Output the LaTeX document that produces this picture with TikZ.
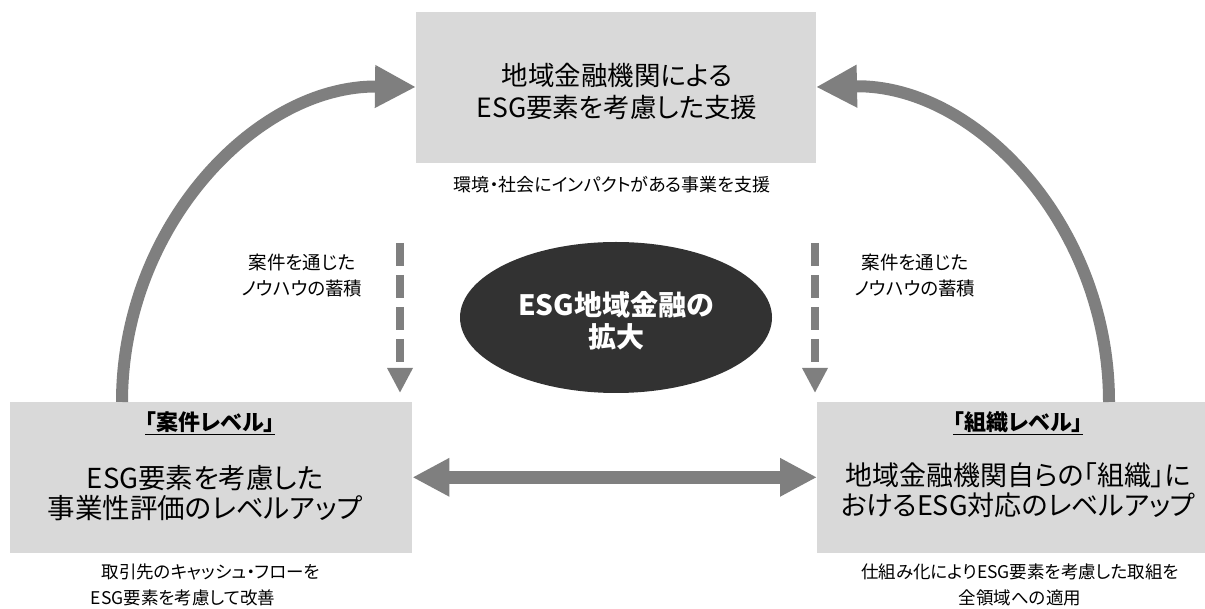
\documentclass[tikz,border=0pt]{standalone}
\usepackage{fontspec}
\setmainfont{Noto Sans CJK JP}[RawFeature=+palt]
\usetikzlibrary{arrows.meta,shapes.geometric}
\definecolor{boxgray}{HTML}{D9D9D9}
\definecolor{arrgray}{HTML}{7F7F7F}
\definecolor{darkfill}{HTML}{323232}
\tikzset{
  box/.style={fill=boxgray, draw=none, inner sep=0pt, anchor=south west},
  txt/.style={inner sep=0pt, align=center, text=black},
  bigtxt/.style={txt, font=\fontsize{26.5}{32}\selectfont},
  smalltxt/.style={txt, font=\fontsize{17.5}{26}\selectfont},
  titletxt/.style={txt, font=\fontsize{22}{26}\selectfont\bfseries},
  curvearrow/.style={draw=arrgray, line width=12pt, -{Triangle[length=41pt,width=40pt]}},
  dasharrow/.style={draw=arrgray, line width=8pt, dash pattern=on 23pt off 9pt, -{Triangle[length=25pt,width=24pt]}},
  dblarrow/.style={draw=arrgray, line width=13pt, {Triangle[length=37pt,width=36pt]}-{Triangle[length=37pt,width=36pt]}},
  core/.style={ellipse, fill=darkfill, draw=none, minimum width=312pt, minimum height=151pt, inner sep=0pt}
}
\begin{document}
\begin{tikzpicture}[x=1pt,y=1pt]
\useasboundingbox (0,0) rectangle (1205,608);
% boxes
\node[box, minimum width=400pt, minimum height=151pt] (topbox) at (416,445) {};
\node[box, minimum width=402pt, minimum height=151pt] (leftbox) at (10,55) {};
\node[box, minimum width=388pt, minimum height=151pt] (rightbox) at (817,55) {};
\node[core] (coreell) at (616,290.5) {};
% texts
\node[bigtxt] (toptext) at (617,516.5) {地域金融機関による\\ESG要素を考慮した支援};
\node[txt, font=\fontsize{18}{26}\selectfont] (topsub) at (612,423) {環境・社会にインパクトがある事業を支援};
\node[titletxt] (lefttitle) at (210,185) {\underline{「案件レベル」}};
\node[txt, font=\fontsize{27.5}{30}\selectfont] (lefttext) at (205,115) {ESG要素を考慮した\\事業性評価のレベルアップ};
\node[smalltxt] (leftsub1) at (211,36) {取引先のキャッシュ・フローを};
\node[smalltxt] (leftsub2) at (183,10) {ESG要素を考慮して改善};
\node[titletxt] (righttitle) at (1018,185) {\underline{「組織レベル」}};
\node[txt, font=\fontsize{27}{30}\selectfont] (righttext) at (1018,118) {地域金融機関自らの「組織」に\\おけるESG対応のレベルアップ};
\node[smalltxt] (rightsub) at (1020,23) {仕組み化によりESG要素を考慮した取組を\\全領域への適用};
\node[txt, font=\fontsize{18.5}{26}\selectfont] (lknow) at (302,332) {案件を通じた\\ノウハウの蓄積};
\node[txt, font=\fontsize{18.5}{26}\selectfont] (rknow) at (915,332) {案件を通じた\\ノウハウの蓄積};
\node[txt, text=white, font=\fontsize{28}{32}\selectfont\bfseries] (coretext) at (616,287) {ESG地域金融の\\拡大};
% connector coordinates
\coordinate (ls) at (122,206);
\coordinate (le) at (416,521);
\coordinate (rs) at (1109,206);
\coordinate (re) at (816,521);
\coordinate (d1s) at (400,365);
\coordinate (d1e) at (400,215);
\coordinate (d2s) at (815,365);
\coordinate (d2e) at (815,215);
% connectors
\draw[curvearrow] (ls) .. controls (122,381) and (256,523) .. (le);
\draw[curvearrow] (rs) .. controls (1109,382) and (976,524) .. (re);
\draw[dasharrow] (d1s) -- (d1e);
\draw[dasharrow] (d2s) -- (d2e);
\draw[dblarrow] (leftbox.east) -- (leftbox.east -| rightbox.west);
\end{tikzpicture}
\end{document}
